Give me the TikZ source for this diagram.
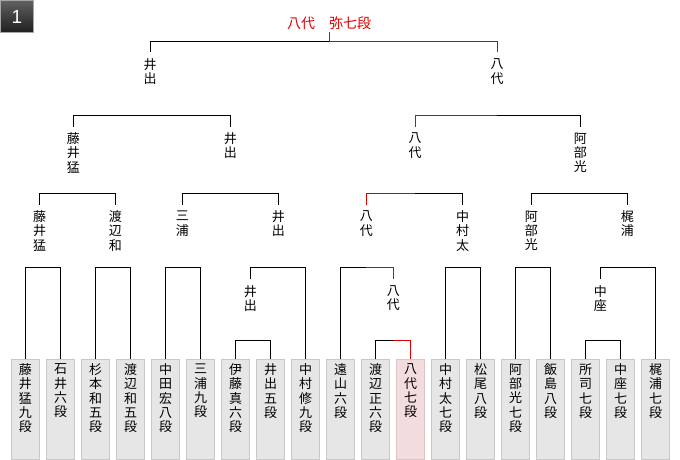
\documentclass[tikz,border=0pt]{standalone}
\usepackage{fontspec}
\newfontfamily\jp{Noto Sans CJK JP}
\newfontfamily\badgefont{Liberation Sans}
\definecolor{wred}{RGB}{225,0,0}
\definecolor{boxfill}{RGB}{230,230,230}
\definecolor{boxline}{RGB}{200,200,200}
\definecolor{winfill}{RGB}{243,220,222}
\definecolor{winline}{RGB}{222,198,200}
\newcommand\vtend{}
\newcommand\vt[1]{\vtop{\baselineskip=14.3pt\lineskiplimit=-30pt\lineskip=0pt\expandafter\vtloop#1\vtend}}
\def\vtloop#1{\ifx#1\vtend\else\hbox to 13pt{\hss\vrule width 0pt height 10pt depth 2pt\relax#1\hss}\expandafter\vtloop\fi}
\begin{document}
\begin{tikzpicture}[x=1pt,y=-1pt,
  ln/.style={line width=1pt,draw=black},
  rd/.style={line width=1pt,draw=wred},
  pbox/.style={draw=boxline,fill=boxfill,line width=1pt,minimum width=28pt,minimum height=100pt,inner sep=0pt,anchor=north},
  wbox/.style={pbox,draw=winline,fill=winfill},
  ptxt/.style={inner sep=0pt,anchor=north,font=\jp\fontsize{13}{14.3}\selectfont},
  lab/.style={inner xsep=0pt,inner ysep=6pt,anchor=north,font=\jp\fontsize{13}{14.3}\selectfont},
  badge/.style={anchor=north west,minimum width=33pt,minimum height=32pt,inner sep=0pt,top color=black!62,bottom color=black!88,draw=black!35,line width=1pt,text=white,font=\badgefont\fontsize{19}{19}\selectfont}
]
\useasboundingbox (0,0) rectangle (680,460);
\node[badge] (badge) at (0,0) {1};
% level coordinates
\coordinate (y0) at (0,41.3);
\coordinate (y1) at (0,115.7);
\coordinate (y2) at (0,193.7);
\coordinate (y3) at (0,267.3);
\coordinate (y4) at (0,340.3);
% players
\foreach \i/\t in {0/藤井猛九段,1/石井六段,2/杉本和五段,3/渡辺和五段,4/中田宏八段,5/三浦九段,6/伊藤真六段,7/井出五段,8/中村修九段,9/遠山六段,10/渡辺正六段,12/中村太七段,13/松尾八段,14/阿部光七段,15/飯島八段,16/所司七段,17/中座七段,18/梶浦七段}{
  \node[pbox] (p\i) at ({25.5+35*\i},359) {};
  \node[ptxt] (pt\i) at ({25.5+35*\i},363.5) {\vt{\t}};
}
\node[wbox] (p11) at (410.5,359) {};
\node[ptxt] (pt11) at (410.5,363.5) {\vt{八代七段}};
% champion
\node[font=\jp\fontsize{14}{16}\selectfont,text=wred,anchor=south,inner xsep=0pt,inner ysep=3.5pt,text depth=0pt] (champ) at (329,32.5) {八代　弥七段};
% labels level 1
\node[lab] (l1a) at (150,52.5) {\vt{井出}};
\node[lab] (l1b) at (497,52.5) {\vt{八代}};
% level 2
\node[lab] (l2a) at (73.3,126.5) {\vt{藤井猛}};
\node[lab] (l2b) at (230.3,126.5) {\vt{井出}};
\node[lab] (l2c) at (415,126.5) {\vt{八代}};
\node[lab] (l2d) at (580.3,126.5) {\vt{阿部光}};
% level 3
\node[lab] (l3a) at (39.7,204.5) {\vt{藤井猛}};
\node[lab] (l3b) at (115.3,204.5) {\vt{渡辺和}};
\node[lab] (l3c) at (182.3,204.5) {\vt{三浦}};
\node[lab] (l3d) at (278.3,204.5) {\vt{井出}};
\node[lab] (l3e) at (366.3,204.5) {\vt{八代}};
\node[lab] (l3f) at (462.7,204.5) {\vt{中村太}};
\node[lab] (l3g) at (531.3,204.5) {\vt{阿部光}};
\node[lab] (l3h) at (627.3,204.5) {\vt{梶浦}};
% level 4
\node[lab] (wA) at (250.3,279) {\vt{井出}};
\node[lab] (wB) at (393.3,279) {\vt{八代}};
\node[lab] (wC) at (600.3,279) {\vt{中座}};
% black brackets
\draw[ln] (l1a.north) -- (l1a.north |- y0) -- (champ.south |- y0);
\draw[ln] (l2a.north) -- (l2a.north |- y1) -| (l2b.north);
\draw[ln] (l1b.north |- y1) -| (l2d.north);
\draw[ln] (l3a.north) -- (l3a.north |- y2) -| (l3b.north);
\draw[ln] (l3c.north) -- (l3c.north |- y2) -| (l3d.north);
\draw[ln] (l2c.north |- y2) -| (l3f.north);
\draw[ln] (l3g.north) -- (l3g.north |- y2) -| (l3h.north);
\draw[ln] (p0.north) -- (p0.north |- y3) -| (p1.north);
\draw[ln] (p2.north) -- (p2.north |- y3) -| (p3.north);
\draw[ln] (p4.north) -- (p4.north |- y3) -| (p5.north);
\draw[ln] (wA.north) -- (wA.north |- y3) -| (p8.north);
\draw[ln] (p9.north) -- (p9.north |- y3) -- (l3e.north |- y3);
\draw[ln] (p12.north) -- (p12.north |- y3) -| (p13.north);
\draw[ln] (p14.north) -- (p14.north |- y3) -| (p15.north);
\draw[ln] (wC.north) -- (wC.north |- y3) -| (p18.north);
\draw[ln] (p6.north) -- (p6.north |- y4) -| (p7.north);
\draw[ln] (p10.north) -- (p10.north |- y4) -- (wB.north |- y4);
\draw[ln] (p16.north) -- (p16.north |- y4) -| (p17.north);
% red path
\draw[rd] (champ.south) -- (champ.south |- y0) -| (l1b.north);
\draw[rd] (l2c.north) -- (l2c.north |- y1) -- (l1b.north |- y1);
\draw[rd] (l3e.north) -- (l3e.north |- y2) -- (l2c.north |- y2);
\draw[rd] (l3e.north |- y3) -| (wB.north);
\draw[rd] (wB.north |- y4) -| (p11.north);
\end{tikzpicture}
\end{document}
